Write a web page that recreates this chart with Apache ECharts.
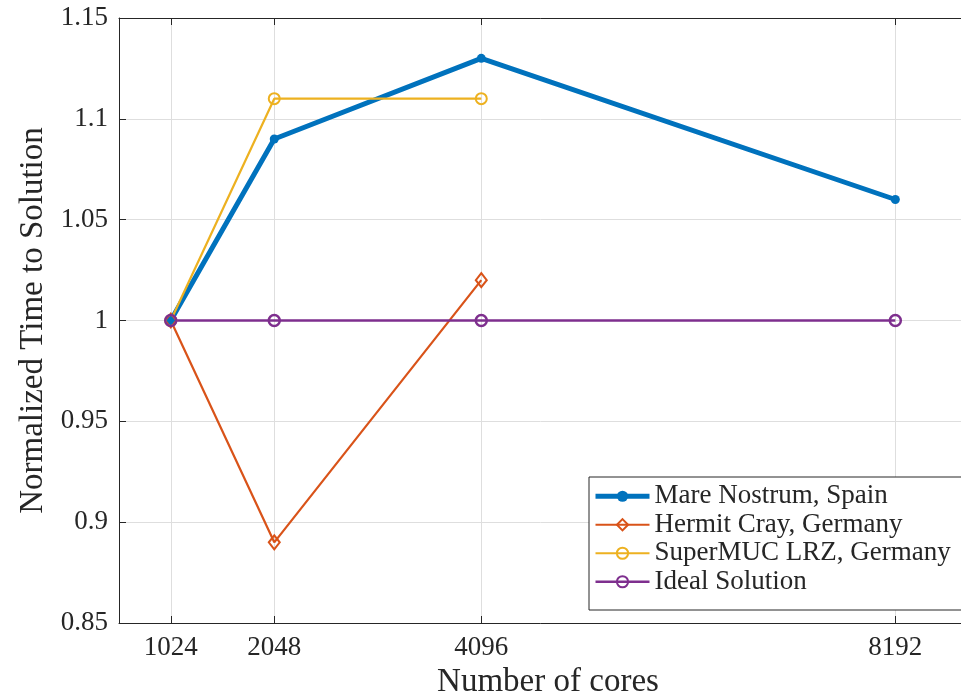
<!DOCTYPE html>
<html>
<head>
<meta charset="utf-8">
<script src="https://cdn.jsdelivr.net/npm/echarts@6/dist/echarts.min.js"></script>
<style>
html,body{margin:0;padding:0;background:#fff;}
#c{width:961px;height:697px;}
</style>
</head>
<body>
<div id="c"></div>
<script>
const cores = [1024, 2048, 4096, 8192];
const mareNostrum = [1.00, 1.09, 1.13, 1.06];
const hermitCray = [1.00, 0.89, 1.02];
const superMUC = [1.00, 1.11, 1.11];
const ideal = [1.00, 1.00, 1.00, 1.00];
const seriesNames = ['Mare Nostrum, Spain', 'Hermit Cray, Germany', 'SuperMUC LRZ, Germany', 'Ideal Solution'];
const xTicks = [1024, 2048, 4096, 8192];

function pairs(vals) { return vals.map((v, i) => [cores[i], v]); }

const FONT = '"Liberation Serif", "Times New Roman", serif';
const AX = '#262626';
const colors = ['#0072BD', '#D95319', '#EDB120', '#7E2F8E'];
const widths = [5, 2.2, 2.2, 2.5];

const chart = echarts.init(document.getElementById('c'), null, {renderer: 'canvas'});
chart.setOption({
  animation: false,
  backgroundColor: '#fff',
  textStyle: {fontFamily: FONT},
  grid: {left: 119, top: 18, width: 858, height: 605, containLabel: false, outerBoundsMode: 'none'},
  xAxis: [{
    type: 'value', min: 512, max: 9000, position: 'bottom',
    name: 'Number of cores', nameLocation: 'middle', nameGap: 37,
    nameTextStyle: {fontFamily: FONT, fontSize: 33, color: AX},
    axisLine: {lineStyle: {color: AX, width: 1}},
    axisTick: {inside: true, length: 7, customValues: xTicks, lineStyle: {color: AX}},
    axisLabel: {customValues: xTicks, fontFamily: FONT, fontSize: 27, color: AX, margin: 11,
      formatter: v => String(v)},
    splitLine: {show: true, lineStyle: {color: '#dedede', width: 1}}
  }, {
    type: 'value', min: 512, max: 9000, position: 'top',
    axisLine: {lineStyle: {color: AX, width: 1}},
    axisTick: {inside: true, length: 7, customValues: xTicks, lineStyle: {color: AX}},
    axisLabel: {show: false},
    splitLine: {show: false}
  }],
  yAxis: {
    type: 'value', min: 0.85, max: 1.15, interval: 0.05,
    name: 'Normalized Time to Solution', nameLocation: 'middle', nameGap: 69,
    nameTextStyle: {fontFamily: FONT, fontSize: 33, color: AX},
    axisLine: {show: true, lineStyle: {color: AX, width: 1}},
    axisTick: {show: true, inside: true, length: 7, lineStyle: {color: AX}},
    axisLabel: {fontFamily: FONT, fontSize: 27, color: AX, margin: 11,
      formatter: v => String(Math.round(v * 100) / 100)},
    splitLine: {show: true, lineStyle: {color: '#dedede', width: 1}}
  },
  legend: {
    orient: 'vertical', left: 589, top: 477,
    padding: [5, 20, 14, 4], itemGap: 0,
    itemWidth: 54, itemHeight: 14,
    backgroundColor: '#fff', borderColor: AX, borderWidth: 1,
    textStyle: {fontFamily: FONT, fontSize: 27, color: AX, lineHeight: 28.5},
    data: seriesNames.map((n, i) => ({name: n, lineStyle: {width: widths[i], color: colors[i]}}))
  },
  series: [{
    name: seriesNames[0], type: 'line', data: pairs(mareNostrum),
    symbol: 'circle', symbolSize: 9,
    lineStyle: {color: colors[0], width: widths[0]},
    itemStyle: {color: colors[0]}
  }, {
    name: seriesNames[1], type: 'line', data: pairs(hermitCray),
    symbol: 'diamond', symbolSize: [11, 14],
    lineStyle: {color: colors[1], width: widths[1]},
    itemStyle: {color: 'rgba(255,255,255,0)', borderColor: colors[1], borderWidth: 2}
  }, {
    name: seriesNames[2], type: 'line', data: pairs(superMUC),
    symbol: 'circle', symbolSize: 11,
    lineStyle: {color: colors[2], width: widths[2]},
    itemStyle: {color: 'rgba(255,255,255,0)', borderColor: colors[2], borderWidth: 2}
  }, {
    name: seriesNames[3], type: 'line', data: pairs(ideal),
    symbol: 'circle', symbolSize: 11,
    lineStyle: {color: colors[3], width: widths[3]},
    itemStyle: {color: 'rgba(255,255,255,0)', borderColor: colors[3], borderWidth: 2.5}
  }]
});
</script>
</body>
</html>
